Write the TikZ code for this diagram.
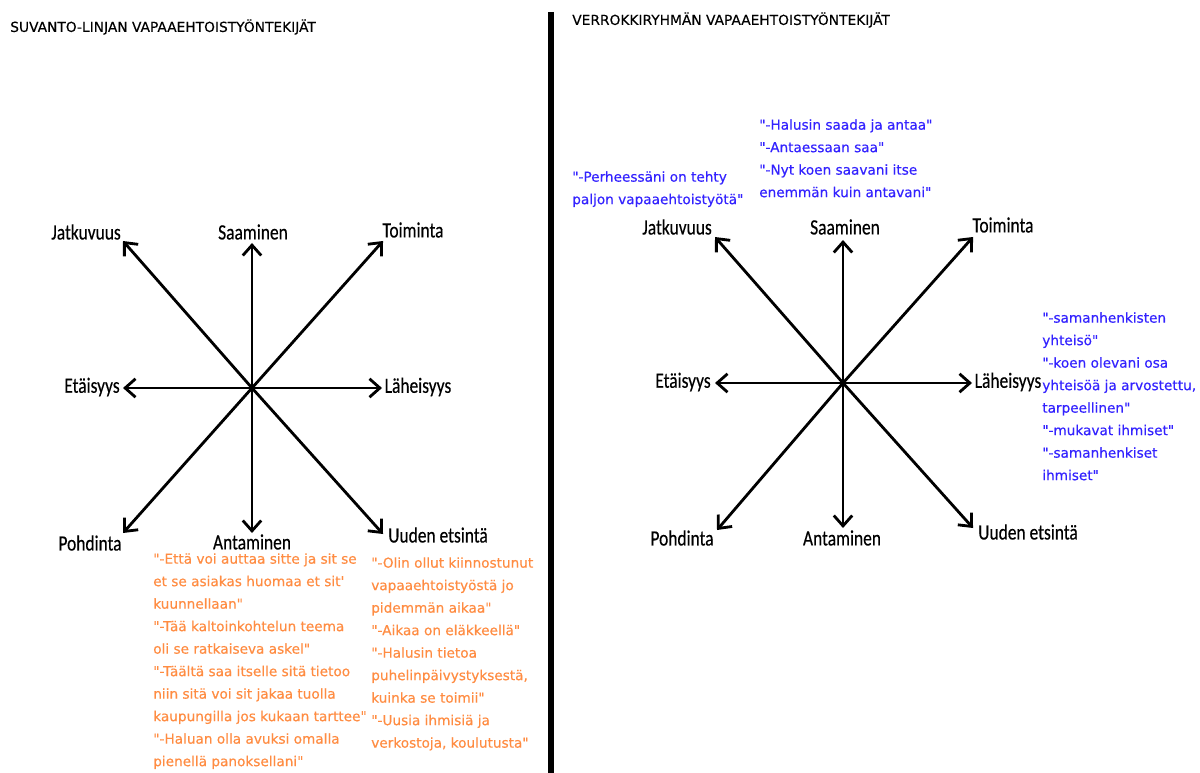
\documentclass[tikz,border=0pt]{standalone}
\usepackage{fontspec}
\setmainfont{DejaVu Sans}
\newfontfamily\quotefont{DejaVu Sans}[FakeBold=0.5]
\newfontfamily\titlefont{DejaVu Sans}[FakeBold=0.3]
\newfontfamily\labelfont{Carlito}[FakeBold=0.4]
\usetikzlibrary{arrows.meta}
\definecolor{quoteorange}{RGB}{255,140,66}
\definecolor{quoteblue}{RGB}{51,34,255}
\newcommand{\narrow}[1]{\scalebox{0.8}[1]{#1}}
\tikzset{
  axis/.style={-{Straight Barb[length=2.6mm,width=4.6mm]},line width=2pt},
  axislabel/.style={font=\labelfont\fontsize{15.5}{18}\selectfont,inner sep=0pt},
  quotebox/.style={align=left,anchor=north west,inner sep=0pt,font=\quotefont\fontsize{9.7}{16}\selectfont},
  orangequote/.style={quotebox,text=quoteorange},
  bluequote/.style={quotebox,text=quoteblue},
  paneltitle/.style={anchor=west,inner sep=0pt,font=\titlefont\fontsize{9.8}{12}\selectfont}
}

\begin{document}
\begin{tikzpicture}[x=0.025cm,y=-0.025cm]
  \useasboundingbox (0,0) rectangle (1200,773);
  % panel titles and divider
  \node[paneltitle] (ltitle) at (10,27) {SUVANTO-LINJAN VAPAAEHTOISTYÖNTEKIJÄT};
  \node[paneltitle] (rtitle) at (572,20) {VERROKKIRYHMÄN VAPAAEHTOISTYÖNTEKIJÄT};
  \coordinate (divtop) at (551,12);
  \coordinate (divbot) at (551,773);
  \draw[line width=3.6pt] (divtop) -- (divbot);

  % left star
  \coordinate (lc) at (252,388);
  \coordinate (ln) at (252,243);
  \coordinate (ls) at (252,533);
  \coordinate (lw) at (123,388);
  \coordinate (le) at (382,388);
  \coordinate (lnw) at (123,241);
  \coordinate (lne) at (383,241);
  \coordinate (lsw) at (123,533);
  \coordinate (lse) at (383,534);
  \foreach \d in {n,s,w,e,nw,ne,sw,se}
    \draw[axis] (lc) -- (l\d);
  \node[axislabel] (ljat) at (86,232) {\narrow{Jatkuvuus}};
  \node[axislabel] (lsaa) at (253,232) {\narrow{Saaminen}};
  \node[axislabel] (ltoi) at (413,230) {\narrow{Toiminta}};
  \node[axislabel] (leta) at (92,387) {\narrow{Etäisyys}};
  \node[axislabel] (llah) at (418,387) {\narrow{Läheisyys}};
  \node[axislabel] (lpoh) at (90,543) {\narrow{Pohdinta}};
  \node[axislabel] (lant) at (252,542) {\narrow{Antaminen}};
  \node[axislabel,anchor=west] (luud) at (388,535) {\narrow{Uuden etsintä}};

  % right star
  \coordinate (rc) at (843,383);
  \coordinate (rn) at (843,240);
  \coordinate (rs) at (843,528);
  \coordinate (rw) at (715,383);
  \coordinate (re) at (972,383);
  \coordinate (rnw) at (715,237);
  \coordinate (rne) at (973,237);
  \coordinate (rsw) at (717,530);
  \coordinate (rse) at (973,528);
  \foreach \d in {n,s,w,e,nw,ne,sw,se}
    \draw[axis] (rc) -- (r\d);
  \node[axislabel] (rjat) at (677,227) {\narrow{Jatkuvuus}};
  \node[axislabel] (rsaa) at (845,227) {\narrow{Saaminen}};
  \node[axislabel] (rtoi) at (1003,225) {\narrow{Toiminta}};
  \node[axislabel] (reta) at (683,382) {\narrow{Etäisyys}};
  \node[axislabel] (rlah) at (1008,382) {\narrow{Läheisyys}};
  \node[axislabel] (rpoh) at (682,538) {\narrow{Pohdinta}};
  \node[axislabel] (rant) at (842,538) {\narrow{Antaminen}};
  \node[axislabel,anchor=west] (ruud) at (978,532) {\narrow{Uuden etsintä}};

  % quotes
  \node[orangequote] (lqgive) at (153,553) {"-Että voi auttaa sitte ja sit se\\et se asiakas huomaa et sit'\\kuunnellaan"\\"-Tää kaltoinkohtelun teema\\oli se ratkaiseva askel"\\"-Täältä saa  itselle sitä tietoo\\niin sitä voi sit jakaa tuolla\\kaupungilla jos kukaan tarttee"\\"-Haluan olla avuksi omalla\\pienellä panoksellani"};
  \node[orangequote] (lqnew) at (371,557) {"-Olin ollut kiinnostunut\\vapaaehtoistyöstä jo\\pidemmän aikaa"\\"-Aikaa on eläkkeellä"\\"-Halusin tietoa\\puhelinpäivystyksestä,\\kuinka se toimii"\\"-Uusia ihmisiä ja\\verkostoja, koulutusta"};
  \node[bluequote] (rqcont) at (572,171) {"-Perheessäni on tehty\\paljon vapaaehtoistyötä"};
  \node[bluequote] (rqget) at (759,119) {"-Halusin saada ja antaa"\\"-Antaessaan saa"\\"-Nyt koen saavani itse\\enemmän kuin antavani"};
  \node[bluequote] (rqclose) at (1042,312) {"-samanhenkisten\\yhteisö"\\"-koen olevani osa\\yhteisöä ja arvostettu,\\tarpeellinen"\\"-mukavat ihmiset"\\"-samanhenkiset\\ihmiset"};
\end{tikzpicture}
\end{document}
